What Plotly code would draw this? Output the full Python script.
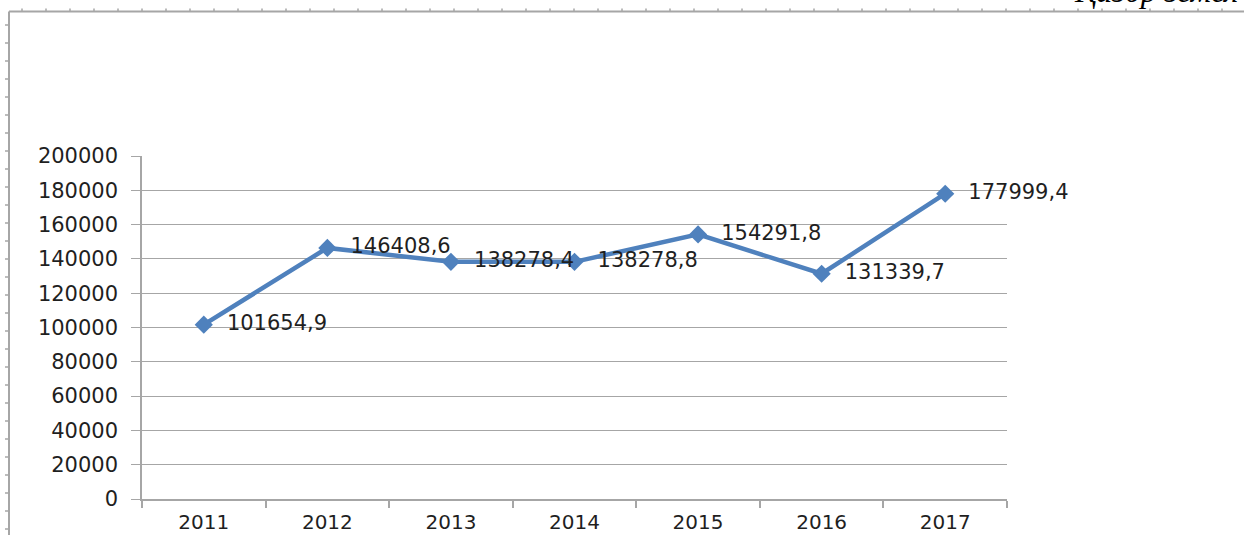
import plotly.graph_objects as go

# data
years = ["2011", "2012", "2013", "2014", "2015", "2016", "2017"]
values = [101654.9, 146408.6, 138278.4, 138278.8, 154291.8, 131339.7, 177999.4]
labels = ["\u00a0\u00a0" + f"{v:.1f}".replace(".", ",") for v in values]
y_ticks = list(range(0, 200001, 20000))

W, H = 1244, 535
L, R, T, B = 142, 1007, 156, 499  # plot area in pixels
GRAY = "#A6A6A6"
BLUE = "#4F81BD"
FONT = "DejaVu Sans"


def px(x):
    return (x - L) / (R - L)


def py(y):
    return (B - y) / (B - T)


fig = go.Figure()
fig.add_trace(go.Scatter(
    x=years, y=values, text=labels,
    mode="lines+markers+text",
    line=dict(color=BLUE, width=4.5),
    marker=dict(symbol="diamond", size=14, color=BLUE),
    textposition="middle right",
    textfont=dict(family=FONT, size=21, color="#1F1F1F"),
    cliponaxis=False,
    hoverinfo="x+y",
))

# page frame with ruler marks (Word screenshot)
shapes = [
    dict(type="line", xref="paper", yref="paper", x0=px(9), x1=px(W + 5), y0=py(11.5), y1=py(11.5),
         line=dict(color=GRAY, width=2)),
    dict(type="line", xref="paper", yref="paper", x0=px(9), x1=px(9), y0=py(11.5), y1=py(H + 5),
         line=dict(color=GRAY, width=2)),
]
for x in range(22, W, 24):
    shapes.append(dict(type="line", xref="paper", yref="paper", x0=px(x), x1=px(x), y0=py(8.5), y1=py(11),
                       line=dict(color=GRAY, width=1.5)))
for y in range(25, H, 18):
    shapes.append(dict(type="line", xref="paper", yref="paper", x0=px(5), x1=px(8.5), y0=py(y), y1=py(y),
                       line=dict(color=GRAY, width=1.5)))

fig.update_layout(
    width=W, height=H,
    margin=dict(l=L, r=W - R, t=T, b=H - B),
    paper_bgcolor="white", plot_bgcolor="white",
    showlegend=False,
    shapes=shapes,
    annotations=[dict(
        text="Қазбр земел", xref="paper", yref="paper",
        x=px(1072), y=py(-9), xanchor="left", yanchor="middle",
        showarrow=False,
        font=dict(family="Liberation Serif", size=32, color="black", style="italic"),
    )],
    xaxis=dict(
        type="category", showgrid=False, showline=True, linecolor=GRAY, linewidth=1.5,
        ticks="outside", tickson="boundaries", ticklen=7, tickcolor=GRAY, tickwidth=1.5,
        tickfont=dict(family=FONT, size=20, color="#1F1F1F"),
        range=[-0.5, 6.5], automargin=False, ticklabelstandoff=4,
    ),
    yaxis=dict(
        range=[0, 200000], tickvals=y_ticks, tickformat="d", showgrid=True, gridcolor=GRAY, gridwidth=1.3,
        showline=True, linecolor=GRAY, linewidth=1.5, zeroline=False,
        ticks="outside", ticklen=9, tickcolor=GRAY, tickwidth=1.3,
        tickfont=dict(family=FONT, size=21, color="#1F1F1F"),
        ticklabelstandoff=9, automargin=False,
    ),
)

fig.write_html("out.html", config={"displayModeBar": False},
               post_script="document.body.style.margin='0';")
